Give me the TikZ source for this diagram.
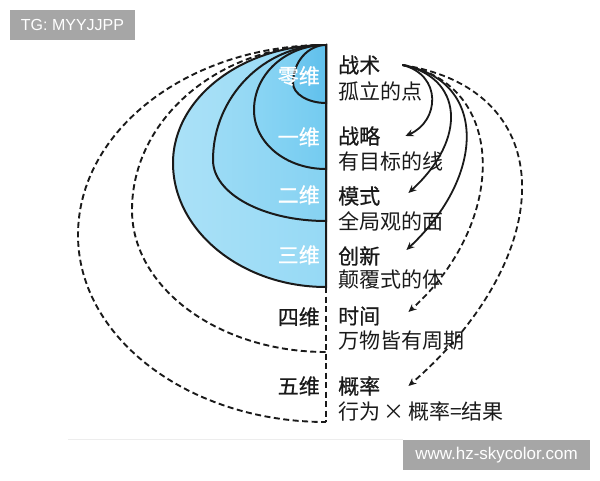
\documentclass[tikz,border=0pt]{standalone}
\usepackage{fontspec}
\setmainfont{Noto Sans CJK SC}[BoldFont={Noto Sans CJK SC}, BoldFeatures={FakeBold=0.8}]
\newfontfamily\latinsans{Liberation Sans}
\usetikzlibrary{arrows.meta}
\definecolor{inkblack}{HTML}{1A1A1A}
\definecolor{markgray}{HTML}{A6A6A6}
\definecolor{sky3l}{HTML}{AAE1F7}
\definecolor{sky3r}{HTML}{96D9F5}
\definecolor{sky2l}{HTML}{9BDBF5}
\definecolor{sky2r}{HTML}{86D2F2}
\definecolor{sky1l}{HTML}{8AD5F4}
\definecolor{sky1r}{HTML}{74CBF0}
\definecolor{sky0l}{HTML}{72C9F0}
\definecolor{sky0r}{HTML}{60C0EC}
\begin{document}
\begin{tikzpicture}[x=1pt,y=-1pt,
  ring/.style={draw=inkblack, line width=2pt},
  dashring/.style={draw=inkblack, line width=1.9pt, dash pattern=on 6pt off 3.5pt},
  ttl/.style={anchor=west, inner sep=0pt, text=inkblack, font=\bfseries\fontsize{21}{21}\selectfont},
  sub/.style={anchor=west, inner sep=0pt, text=inkblack, font=\fontsize{21}{21}\selectfont},
  dimw/.style={anchor=east, inner sep=0pt, text=white, font=\bfseries\fontsize{21}{21}\selectfont},
  dimb/.style={anchor=east, inner sep=0pt, text=inkblack, font=\bfseries\fontsize{21}{21}\selectfont},
  arr/.style={draw=inkblack, line width=1.8pt, -{Stealth[length=8pt,width=7pt]}},
  darr/.style={arr, dash pattern=on 6pt off 3.5pt},
  tagbox/.style={fill=markgray, text=white, inner sep=0pt, font=\latinsans\fontsize{16}{16}\selectfont}]
\useasboundingbox (0,0) rectangle (600,480);
\draw[color=black!7, line width=0.8pt] (68,439) -- (403,439);
\draw[dashring] (326,45) .. controls (189,45) and (78,130) .. (78,235) .. controls (78,338) and (189,422) .. (326,422);
\draw[dashring] (326,45) .. controls (219,45) and (132,119) .. (132,210) .. controls (132,288) and (219,352) .. (326,352);
\filldraw[ring, left color=sky3l, right color=sky3r] (326,45) .. controls (242,45) and (173,98) .. (173,163) .. controls (173,231) and (242,287) .. (326,287) -- cycle;
\filldraw[ring, left color=sky2l, right color=sky2r] (326,45) .. controls (264,45) and (213,97) .. (213,160) .. controls (213,194) and (264,221) .. (326,221) -- cycle;
\filldraw[ring, left color=sky1l, right color=sky1r] (326,45) .. controls (286,45) and (254,74) .. (254,110) .. controls (254,143) and (286,169) .. (326,169) -- cycle;
\filldraw[ring, left color=sky0l, right color=sky0r] (326,45) .. controls (308,45) and (293,62) .. (293,83) .. controls (293,94) and (308,103) .. (326,103) -- cycle;
\draw[inkblack, line width=2pt] (326,45) -- (326,287);
\draw[dashring] (326,287) -- (326,422);
\node[dimw] (d0) at (320,76) {零维};
\node[dimw] (d1) at (320,137) {一维};
\node[dimw] (d2) at (320,195) {二维};
\node[dimw] (d3) at (320,255) {三维};
\node[dimb] (d4) at (320,317) {四维};
\node[dimb] (d5) at (320,386) {五维};
\node[ttl] (zs) at (338,65) {战术};
\node[sub] (zs2) at (338,91) {孤立的点};
\node[ttl] (zl) at (338,136) {战略};
\node[sub] (zl2) at (338,161) {有目标的线};
\node[ttl] (ms) at (338,196) {模式};
\node[sub] (ms2) at (338,221) {全局观的面};
\node[ttl] (cx) at (338,256) {创新};
\node[sub] (cx2) at (338,279) {颠覆式的体};
\node[ttl] (sj) at (338,316) {时间};
\node[sub] (sj2) at (338,341) {万物皆有周期};
\node[ttl] (gl) at (338,386) {概率};
\node[sub] (gl2) at (338,411) {行为\,×\,概率=结果};
\draw[arr] ([xshift=22]zs.east) .. controls +(40,10) and +(34,-15) .. ([xshift=25]zl.east);
\draw[arr] ([xshift=22]zs.east) .. controls +(60,12) and +(60,-55) .. ([xshift=28,yshift=3]ms.east);
\draw[arr] ([xshift=22]zs.east) .. controls +(85,15) and +(80,-75) .. ([xshift=26,yshift=6]cx.east);
\draw[darr] ([xshift=22]zs.east) .. controls +(105,18) and +(100,-90) .. ([xshift=28,yshift=4]sj.east);
\draw[darr] ([xshift=22]zs.east) .. controls +(160,25) and +(150,-130) .. ([xshift=28]gl.east);
\node[tagbox, minimum width=125, minimum height=30] (tg) at (72.5,25) {TG: MYYJJPP};
\node[tagbox, minimum width=187, minimum height=30, font=\latinsans\fontsize{17}{17}\selectfont] (web) at (496.5,455) {www.hz-skycolor.com};
\end{tikzpicture}
\end{document}
